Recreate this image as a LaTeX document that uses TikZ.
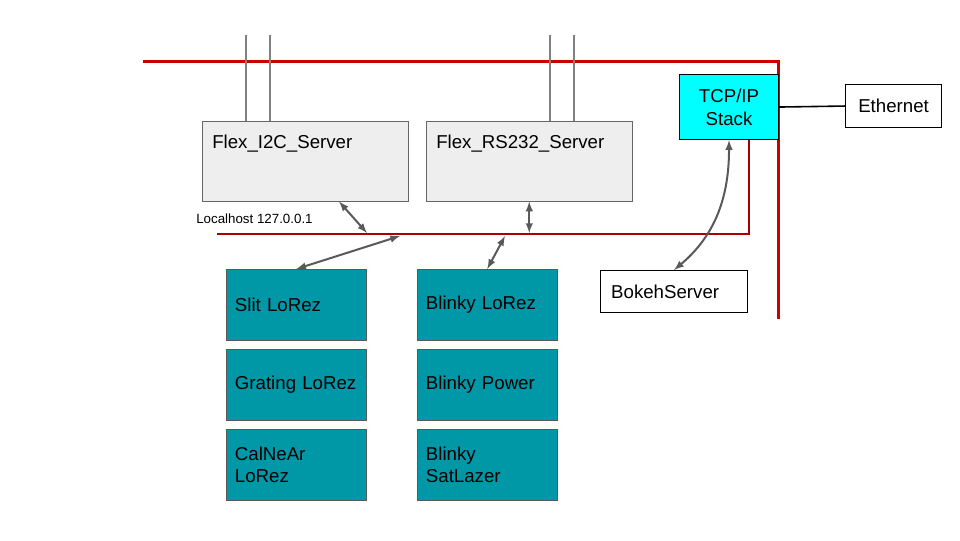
\documentclass[tikz,border=0pt]{standalone}
\usepackage{fontspec}
\setmainfont{Liberation Sans}
\usetikzlibrary{positioning, arrows}
\definecolor{busred}{HTML}{CC0000}
\definecolor{lhred}{HTML}{A80000}
\definecolor{devteal}{HTML}{0097A7}
\definecolor{flexgray}{HTML}{EEEEEE}
\definecolor{stackcyan}{HTML}{00FFFF}
\definecolor{arrowgray}{HTML}{595959}

\begin{document}
\begin{tikzpicture}[x=0.75pt, y=-0.75pt]
	\tikzstyle{flex} = [ draw=black!60, fill=flexgray, thin, anchor=north west, inner xsep=7.5pt, inner ysep=0pt, text width=139.5pt, text height=20.25pt, text depth=39.75pt, align=left, font={\fontsize{14}{17}\selectfont}];
	\tikzstyle{device} = [ draw=arrowgray, fill=devteal, thin, anchor=north west, inner xsep=6.5pt, text width=92pt, minimum height=53.25pt, align=left, font={\fontsize{14}{16.5}\selectfont}];
	\tikzstyle{plain} = [ draw, thick, anchor=north west, font={\fontsize{14}{17}\selectfont}];
	\tikzstyle{bus} = [ busred, line width=2.25pt ];
	\tikzstyle{lhbus} = [ lhred, line width=1.3pt ];
	\tikzstyle{wire} = [ black!50, line width=0.8pt ];
	\tikzstyle{link} = [ <->, >=latex, arrowgray, line width=1.5pt ];

	\useasboundingbox (0,0) rectangle (960,540);

	% busses
	\draw[bus] (143,61) -| (778,319);
	\draw[lhbus] (217,234) -| (749,140);
	\node[anchor=base west, inner sep=0pt, font={\fontsize{10}{12}\selectfont}] (lhlabel) at (196,223) {Localhost 127.0.0.1};

	\node[flex] (i2c) at (202,121) {Flex\_I2C\_Server};
	\node[flex] (rs) at (426,121) {Flex\_RS232\_Server};

	\foreach \w/\x in {i2c/246,i2c/270,rs/550,rs/574} {
		\coordinate (top\x) at (\x,35);
		\draw[wire] (top\x) -- (top\x |- \w.north);
	}

	\foreach \n/\x/\y/\t in {slit/226/269/{Slit LoRez}, grating/226/349/{Grating LoRez}, calnear/226/429/{CalNeAr\\LoRez}, blinky/417/269/{Blinky LoRez}, power/417/349/{Blinky Power}, satlazer/417/429/{Blinky\\SatLazer}} {
		\node[device] (\n) at (\x,\y) {\t};
	}

	\node[plain, fill=stackcyan, minimum width=74.25pt, minimum height=48.75pt, align=center] (tcp) at (679,74) {TCP/IP\\Stack};
	\node[plain, minimum width=72pt, minimum height=32.25pt] (eth) at (845,84) {Ethernet};
	\node[plain, inner xsep=8pt, text width=94.25pt, minimum height=31.5pt, align=left] (bokeh) at (600,270) {BokehServer};

	\coordinate (lhA) at (367,233);
	\coordinate (lhB) at (400,236);
	\coordinate (lhC) at (505,236);

	\draw[link] (i2c.-50) to (lhA);
	\draw[link] (lhB) to (slit.north);
	\draw[link] (rs.south) to (rs.south |- lhA);
	\draw[link] (lhC) to (blinky.north);
	\draw[link] (tcp.south) to[out=-90, in=40] (bokeh.north);
	\draw[line width=1.2pt] (tcp.east) to (eth.west);
\end{tikzpicture}
\end{document}
